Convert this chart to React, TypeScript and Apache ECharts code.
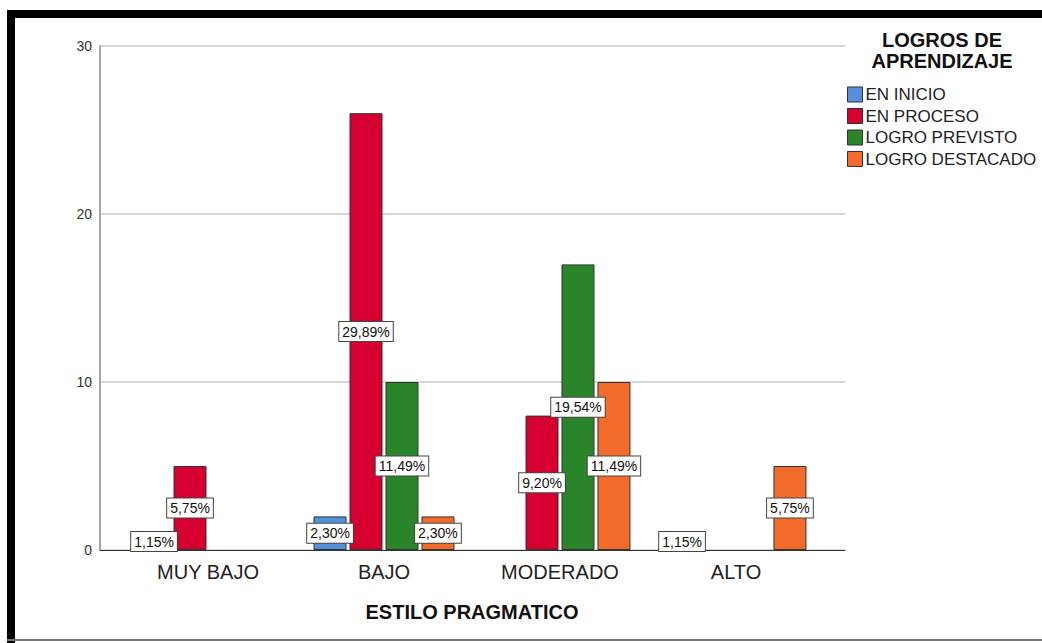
import React, { useEffect, useRef } from "react";
import * as echarts from "echarts";

const categories = ["MUY BAJO", "BAJO", "MODERADO", "ALTO"];
const seriesNames = ["EN INICIO", "EN PROCESO", "LOGRO PREVISTO", "LOGRO DESTACADO"];
const enInicio = [1, 2, null, 1];
const enProceso = [5, 26, 8, null];
const logroPrevisto = [null, 10, 17, null];
const logroDestacado = [null, 2, 10, 5];
const total = 87;
const yTicks = [0, 10, 20, 30];
const colors = ["#5591db", "#d50030", "#2a852a", "#f26b2b"];

const FONT = "'Liberation Sans', Arial, sans-serif";

export default function App() {
  const ref = useRef<HTMLDivElement>(null);
  useEffect(() => {
    document.body.style.margin = "0";
    const chart = echarts.init(ref.current!, null, { renderer: "svg" });
    const allData = [enInicio, enProceso, logroPrevisto, logroDestacado];
    const series = allData.map((d, i) => ({
      name: seriesNames[i],
      type: "bar",
      xAxisIndex: 0,
      yAxisIndex: 0,
      data: d.map((v) => (v == null ? null : v)),
      barWidth: 33,
      barGap: "9%",
      itemStyle: { color: colors[i], borderColor: "#333", borderWidth: 1 },
      label: {
        show: true,
        position: "inside",
        formatter: (p: any) =>
          ((p.value / total) * 100).toFixed(2).replace(".", ",") + "%",
        color: "#111",
        fontSize: 14,
        fontFamily: FONT,
        backgroundColor: "#fff",
        borderColor: "#444",
        borderWidth: 1,
        padding: [3, 3, 2, 3],
      },
    }));
    chart.setOption({
      animation: false,
      backgroundColor: "#fff",
      textStyle: { fontFamily: FONT },
      grid: [
        { left: 120, top: 46, width: 704, height: 504 },
        { left: 100, top: 46, width: 745, height: 504 },
      ],
      xAxis: [
        {
          type: "category",
          gridIndex: 0,
          data: categories,
          axisLine: { show: false },
          axisTick: { show: false },
          axisLabel: { color: "#222", fontSize: 20, margin: 12, fontFamily: FONT },
        },
        {
          type: "value",
          gridIndex: 1,
          min: 0,
          max: 1,
          axisLine: { show: true, lineStyle: { color: "#333", width: 1 } },
          axisTick: { show: false },
          axisLabel: { show: false },
          splitLine: { show: false },
        },
      ],
      yAxis: [
        {
          type: "value",
          gridIndex: 0,
          min: 0,
          max: 30,
          show: false,
          splitLine: { show: false },
        },
        {
          type: "value",
          gridIndex: 1,
          min: yTicks[0],
          max: yTicks[yTicks.length - 1],
          interval: 10,
          axisLine: { show: true, lineStyle: { color: "#a6a6a6", width: 2 } },
          axisTick: { show: false },
          axisLabel: { color: "#333", fontSize: 14, margin: 8, fontFamily: FONT },
          splitLine: { show: true, lineStyle: { color: "#c8c8c8", width: 1.5 } },
        },
      ],
      legend: {
        data: seriesNames,
        orient: "vertical",
        left: 842,
        top: 81,
        itemWidth: 15,
        itemHeight: 15,
        itemGap: 4.5,
        icon: "rect",
        itemStyle: { borderColor: "#333", borderWidth: 1 },
        textStyle: { color: "#222", fontSize: 17, fontFamily: FONT, padding: [0, 0, 0, -2] },
      },
      graphic: [
        { type: "rect", shape: { x: 7, y: 10, width: 1035, height: 8 }, style: { fill: "#000" } },
        { type: "rect", shape: { x: 7, y: 10, width: 8, height: 633 }, style: { fill: "#000" } },
        { type: "rect", shape: { x: 7, y: 639, width: 1035, height: 2 }, style: { fill: "#777" } },
        {
          type: "text",
          x: 942,
          y: 29,
          style: {
            text: "LOGROS DE\nAPRENDIZAJE",
            fill: "#111",
            font: "bold 20px " + FONT,
            align: "center",
            lineHeight: 21,
          },
        },
        {
          type: "text",
          x: 472,
          y: 602,
          style: {
            text: "ESTILO PRAGMATICO",
            fill: "#111",
            font: "bold 20px " + FONT,
            align: "center",
          },
        },
      ],
      series,
    });
    return () => chart.dispose();
  }, []);
  return <div ref={ref} style={{ width: 1042, height: 643 }} />;
}
